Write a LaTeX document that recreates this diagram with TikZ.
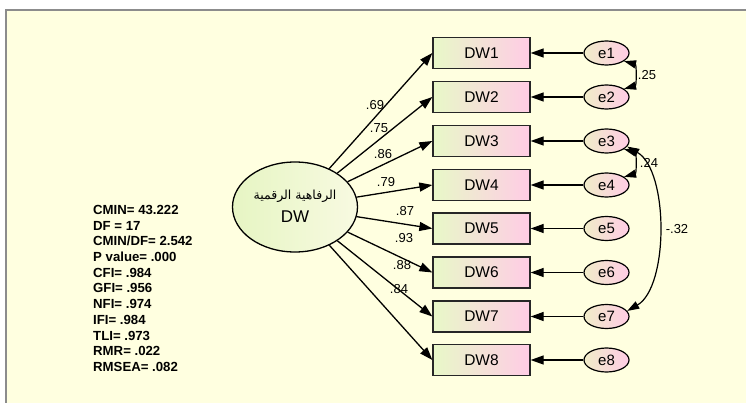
\documentclass[tikz,border=0pt]{standalone}
\usepackage{fontspec}
\setmainfont{Liberation Sans}
\newfontfamily\arabicfont[Script=Arabic]{DejaVu Sans}
\TeXXeTstate=1
\usetikzlibrary{shapes.geometric,arrows.meta}
\definecolor{bgyellow}{RGB}{255,255,224}
\definecolor{framegray}{RGB}{140,140,140}
\definecolor{boxgreen}{RGB}{232,248,200}
\definecolor{boxpink}{RGB}{255,204,229}
\definecolor{errbeige}{RGB}{240,236,200}
\definecolor{latgreen}{RGB}{230,245,195}
\definecolor{latlight}{RGB}{248,250,225}
\begin{document}
\begin{tikzpicture}[x=1pt,y=-1pt,
  obsbox/.style={rectangle,draw=black!85,line width=1.3pt,minimum width=97pt,minimum height=31pt,inner sep=0pt,left color=boxgreen,right color=boxpink,font=\fontsize{15.5}{17}\selectfont},
  errnode/.style={ellipse,draw=black,line width=1.2pt,minimum width=45pt,minimum height=24pt,inner sep=0pt,left color=errbeige,right color=boxpink,font=\fontsize{15}{16}\selectfont},
  latnode/.style={ellipse,draw=black,line width=1.3pt,minimum width=125pt,minimum height=90pt,inner sep=0pt,left color=latgreen,right color=latlight,align=center},
  path/.style={line width=1.3pt,-{Triangle[length=13pt,width=9pt]}},
  covpath/.style={line width=1.2pt,{Triangle[length=12pt,width=8pt]}-{Triangle[length=12pt,width=8pt]}},
  ldlabel/.style={font=\fontsize{13}{15}\selectfont,inner sep=0pt},
  fitlabel/.style={font=\bfseries\fontsize{13.2}{15.7}\selectfont,align=left,anchor=north west,inner sep=0pt}
]
\useasboundingbox (0,0) rectangle (746,403);
\fill[white] (0,0) rectangle (746,403);
\fill[bgyellow] (6,10) rectangle (746,403);
\draw[framegray,line width=1.5pt] (6,403) -- (6,10) -- (746,10);

\node[latnode] (dw) at (295,207) {};
\node[inner sep=0pt,font=\arabicfont\fontsize{12.5}{14}\selectfont] (dwar) at (295,196) {\beginR الرفاهية الرقمية\endR};
\node[inner sep=0pt,font=\fontsize{17}{19}\selectfont] (dwtx) at (295,216.5) {DW};

\foreach \i/\y in {1/53,2/97,3/141,4/185,5/228.5,6/272.5,7/316.5,8/360}{
  \node[obsbox] (b\i) at (481.5,\y) {DW\i};
  \node[errnode] (e\i) at (606.5,\y) {e\i};
  \draw[path] (e\i) -- (b\i);
  \draw[path] (dw) -- (b\i.west);
}

\node[ldlabel] (l1) at (375,105) {.69};
\node[ldlabel] (l2) at (379,128) {.75};
\node[ldlabel] (l3) at (383,154) {.86};
\node[ldlabel] (l4) at (386,182) {.79};
\node[ldlabel] (l5) at (405,211) {.87};
\node[ldlabel] (l6) at (404,238) {.93};
\node[ldlabel] (l7) at (402,265) {.88};
\node[ldlabel] (l8) at (399,289) {.84};

\draw[covpath] (e1.-25) to[out=-15,in=15,looseness=1.2] (e2.25);
\draw[covpath] (e3.-25) to[out=-15,in=15,looseness=1.2] (e4.25);
\draw[covpath] (e3.-15) to[out=-30,in=30,looseness=0.75] (e7.15);
\node[ldlabel] (c12) at (647,75) {.25};
\node[ldlabel] (c34) at (649,163) {.24};
\node[ldlabel] (c37) at (677,229) {-.32};

\node[fitlabel] (fit) at (93,205) {CMIN= 43.222\\DF = 17\\CMIN/DF= 2.542\\P value= .000\\CFI= .984\\GFI= .956\\NFI= .974\\IFI= .984\\TLI= .973\\RMR= .022\\RMSEA= .082};
\end{tikzpicture}
\end{document}
